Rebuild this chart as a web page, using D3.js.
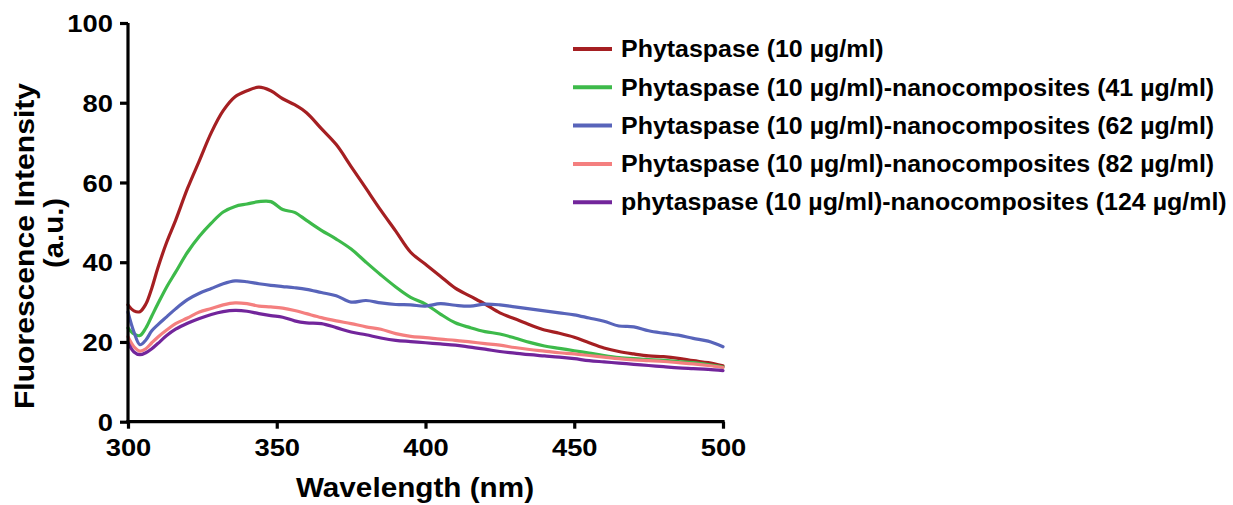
<!DOCTYPE html>
<html>
<head>
<meta charset="utf-8">
<script src="https://cdn.jsdelivr.net/npm/d3@7"></script>
<style>
  html, body { margin: 0; padding: 0; background: #fff; }
  svg text { font-family: Arial, "Liberation Sans", sans-serif; font-weight: bold; fill: #000; }
</style>
</head>
<body>
<svg id="chart" width="1233" height="505"></svg>
<script>
// Emission spectra, wavelength grid in nm
const wavelengths = [300, 302, 304, 306, 308, 310, 313, 316, 320, 324, 328, 332, 336, 340, 344, 348,
  352, 356, 360, 365, 370, 375, 380, 385, 390, 395, 400, 405, 410, 415, 420, 425, 430, 435, 440,
  445, 450, 455, 460, 465, 470, 475, 480, 485, 490, 495, 500];

const seriesNames = [
  "Phytaspase (10 µg/ml)",
  "Phytaspase (10 µg/ml)-nanocomposites (41 µg/ml)",
  "Phytaspase (10 µg/ml)-nanocomposites (62 µg/ml)",
  "Phytaspase (10 µg/ml)-nanocomposites (82 µg/ml)",
  "phytaspase (10 µg/ml)-nanocomposites (124 µg/ml)"
];

const enzymeOnly = [29.3, 27.8, 27.6, 29.5, 33.5, 38.5, 45, 50.5, 58.5, 65.5, 72.5, 78, 81.5, 83, 83.9, 83,
  81, 79.5, 77.5, 73.5, 69.5, 64, 58.5, 53, 47.8, 42.5, 39.5, 36.5, 33.5, 31.5, 29.5, 27.3, 25.8, 24.3, 23,
  22.2, 21.2, 19.8, 18.5, 17.6, 17, 16.5, 16.3, 15.9, 15.3, 14.8, 14.0];

const nano41 = [23.5, 22, 21.6, 23.5, 26.5, 29.5, 33.8, 37.5, 42.5, 46.5, 49.8, 52.6, 54, 54.6, 55.2, 55.2,
  53.2, 52.5, 50.5, 48, 45.8, 43.3, 40, 36.8, 33.8, 31.2, 29.5, 27, 24.8, 23.6, 22.6, 22, 21, 19.9, 19,
  18.4, 17.8, 17.2, 16.6, 16.1, 15.8, 15.6, 15.4, 15.1, 14.8, 14.3, 13.7];

const nano62 = [27.5, 22.5, 19.3, 20.5, 22.8, 24.3, 26.3, 28.3, 30.6, 32.2, 33.4, 34.6, 35.3, 35.1, 34.6, 34.2,
  33.9, 33.6, 33.2, 32.4, 31.6, 30.0, 30.4, 29.8, 29.4, 29.3, 29.0, 29.6, 29.2, 29.0, 29.5, 29.3, 28.8, 28.3, 27.8,
  27.3, 26.8, 26.0, 25.2, 24.0, 23.8, 22.8, 22.2, 21.7, 20.9, 20.2, 18.8];

const nano82 = [21.3, 18.8, 17.7, 18.3, 19.8, 21.2, 23, 24.6, 26, 27.5, 28.4, 29.3, 29.8, 29.6, 29, 28.8,
  28.5, 27.9, 27.1, 26.1, 25.3, 24.6, 23.8, 23.2, 22.1, 21.4, 21.1, 20.7, 20.4, 20.0, 19.6, 19.2, 18.6, 18.1, 17.7,
  17.3, 17.0, 16.6, 16.2, 15.8, 15.5, 15.3, 15.1, 14.8, 14.5, 14.1, 13.6];

const nano124 = [19.8, 17.5, 16.8, 17.3, 18.3, 19.6, 21.6, 23.2, 24.7, 25.9, 26.9, 27.6, 27.9, 27.7, 27.1, 26.6,
  26.2, 25.3, 24.8, 24.6, 23.6, 22.5, 21.8, 21.0, 20.4, 20.1, 19.8, 19.5, 19.2, 18.7, 18.2, 17.6, 17.2, 16.8, 16.5,
  16.2, 15.8, 15.3, 15.0, 14.7, 14.4, 14.1, 13.8, 13.5, 13.3, 13.1, 12.8];

const seriesColors = ["#a51f22", "#3dba4a", "#5864ba", "#f47f7f", "#72259b"];

const xTicks = [300, 350, 400, 450, 500];
const yTicks = [0, 20, 40, 60, 80, 100];

const allSeries = [enzymeOnly, nano41, nano62, nano82, nano124];

const svg = d3.select("#chart");
const plot = { left: 128, right: 723, top: 23, bottom: 421.7 };

const x = d3.scaleLinear().domain([300, 500]).range([plot.left, plot.right]);
const y = d3.scaleLinear().domain([0, 100]).range([plot.bottom, plot.top]);

// stretch text horizontally along its baseline
function widen(sel, k) {
  sel.each(function () {
    const w = this.getComputedTextLength();
    d3.select(this).attr("textLength", w * k).attr("lengthAdjust", "spacingAndGlyphs");
  });
}

// curves
const line = d3.line()
  .x((d, i) => x(wavelengths[i]))
  .y(d => y(d))
  .curve(d3.curveCatmullRom.alpha(0.5));

svg.append("g").selectAll("path")
  .data(allSeries)
  .join("path")
  .attr("d", d => line(d))
  .attr("fill", "none")
  .attr("stroke", (d, i) => seriesColors[i])
  .attr("stroke-width", 3.2)
  .attr("stroke-linejoin", "round")
  .attr("stroke-linecap", "round");

// axes
const xAxis = svg.append("g")
  .attr("transform", `translate(0,${plot.bottom})`)
  .call(d3.axisBottom(x).tickValues(xTicks).tickSize(7).tickPadding(10).tickSizeOuter(0));
const yAxis = svg.append("g")
  .attr("transform", `translate(${plot.left},0)`)
  .call(d3.axisLeft(y).tickValues(yTicks).tickSize(8).tickPadding(7).tickSizeOuter(0));

[xAxis, yAxis].forEach(a => {
  a.select(".domain").attr("stroke", "#000").attr("stroke-width", 3.2);
  a.selectAll(".tick line").attr("stroke", "#000").attr("stroke-width", 3.2);
  a.selectAll(".tick text").style("font-size", "24px").style("font-family", "Arial, 'Liberation Sans', sans-serif")
    .style("font-weight", "bold").attr("fill", "#000");
});
// extend the domain lines so corners meet cleanly
xAxis.select(".domain").attr("d", `M${plot.left - 1.6},0H${plot.right + 1.6}`);
yAxis.select(".domain").attr("d", `M0,${plot.top}V${plot.bottom + 1.6}`);
yAxis.selectAll(".tick text").attr("dy", "0.36em");
xAxis.selectAll(".tick text").attr("dy", "0.72em");
widen(xAxis.selectAll(".tick text"), 1.14);
widen(yAxis.selectAll(".tick text"), 1.14);

// axis titles
const xt = svg.append("text")
  .attr("x", 415).attr("y", 497)
  .attr("text-anchor", "middle")
  .style("font-size", "27px")
  .text("Wavelength (nm)");
widen(xt, 1.1);

const yt1 = svg.append("text")
  .attr("transform", "translate(34,246) rotate(-90)")
  .attr("text-anchor", "middle")
  .style("font-size", "28px")
  .text("Fluorescence Intensity");
widen(yt1, 1.075);
const yt2 = svg.append("text")
  .attr("transform", "translate(63,233) rotate(-90)")
  .attr("text-anchor", "middle")
  .style("font-size", "28px")
  .text("(a.u.)");
widen(yt2, 1.05);

// legend
const legend = svg.append("g").attr("transform", "translate(573,49)");
const rows = legend.selectAll("g")
  .data(seriesNames)
  .join("g")
  .attr("transform", (d, i) => `translate(0,${i * 38.3})`);
rows.append("line")
  .attr("x1", 0).attr("x2", 39).attr("y1", 0).attr("y2", 0)
  .attr("stroke", (d, i) => seriesColors[i])
  .attr("stroke-width", 4);
const lt = rows.append("text")
  .attr("x", 48).attr("y", 0).attr("dy", "0.36em")
  .style("font-size", "23px")
  .text(d => d);
widen(lt, 1.085);
</script>
</body>
</html>
